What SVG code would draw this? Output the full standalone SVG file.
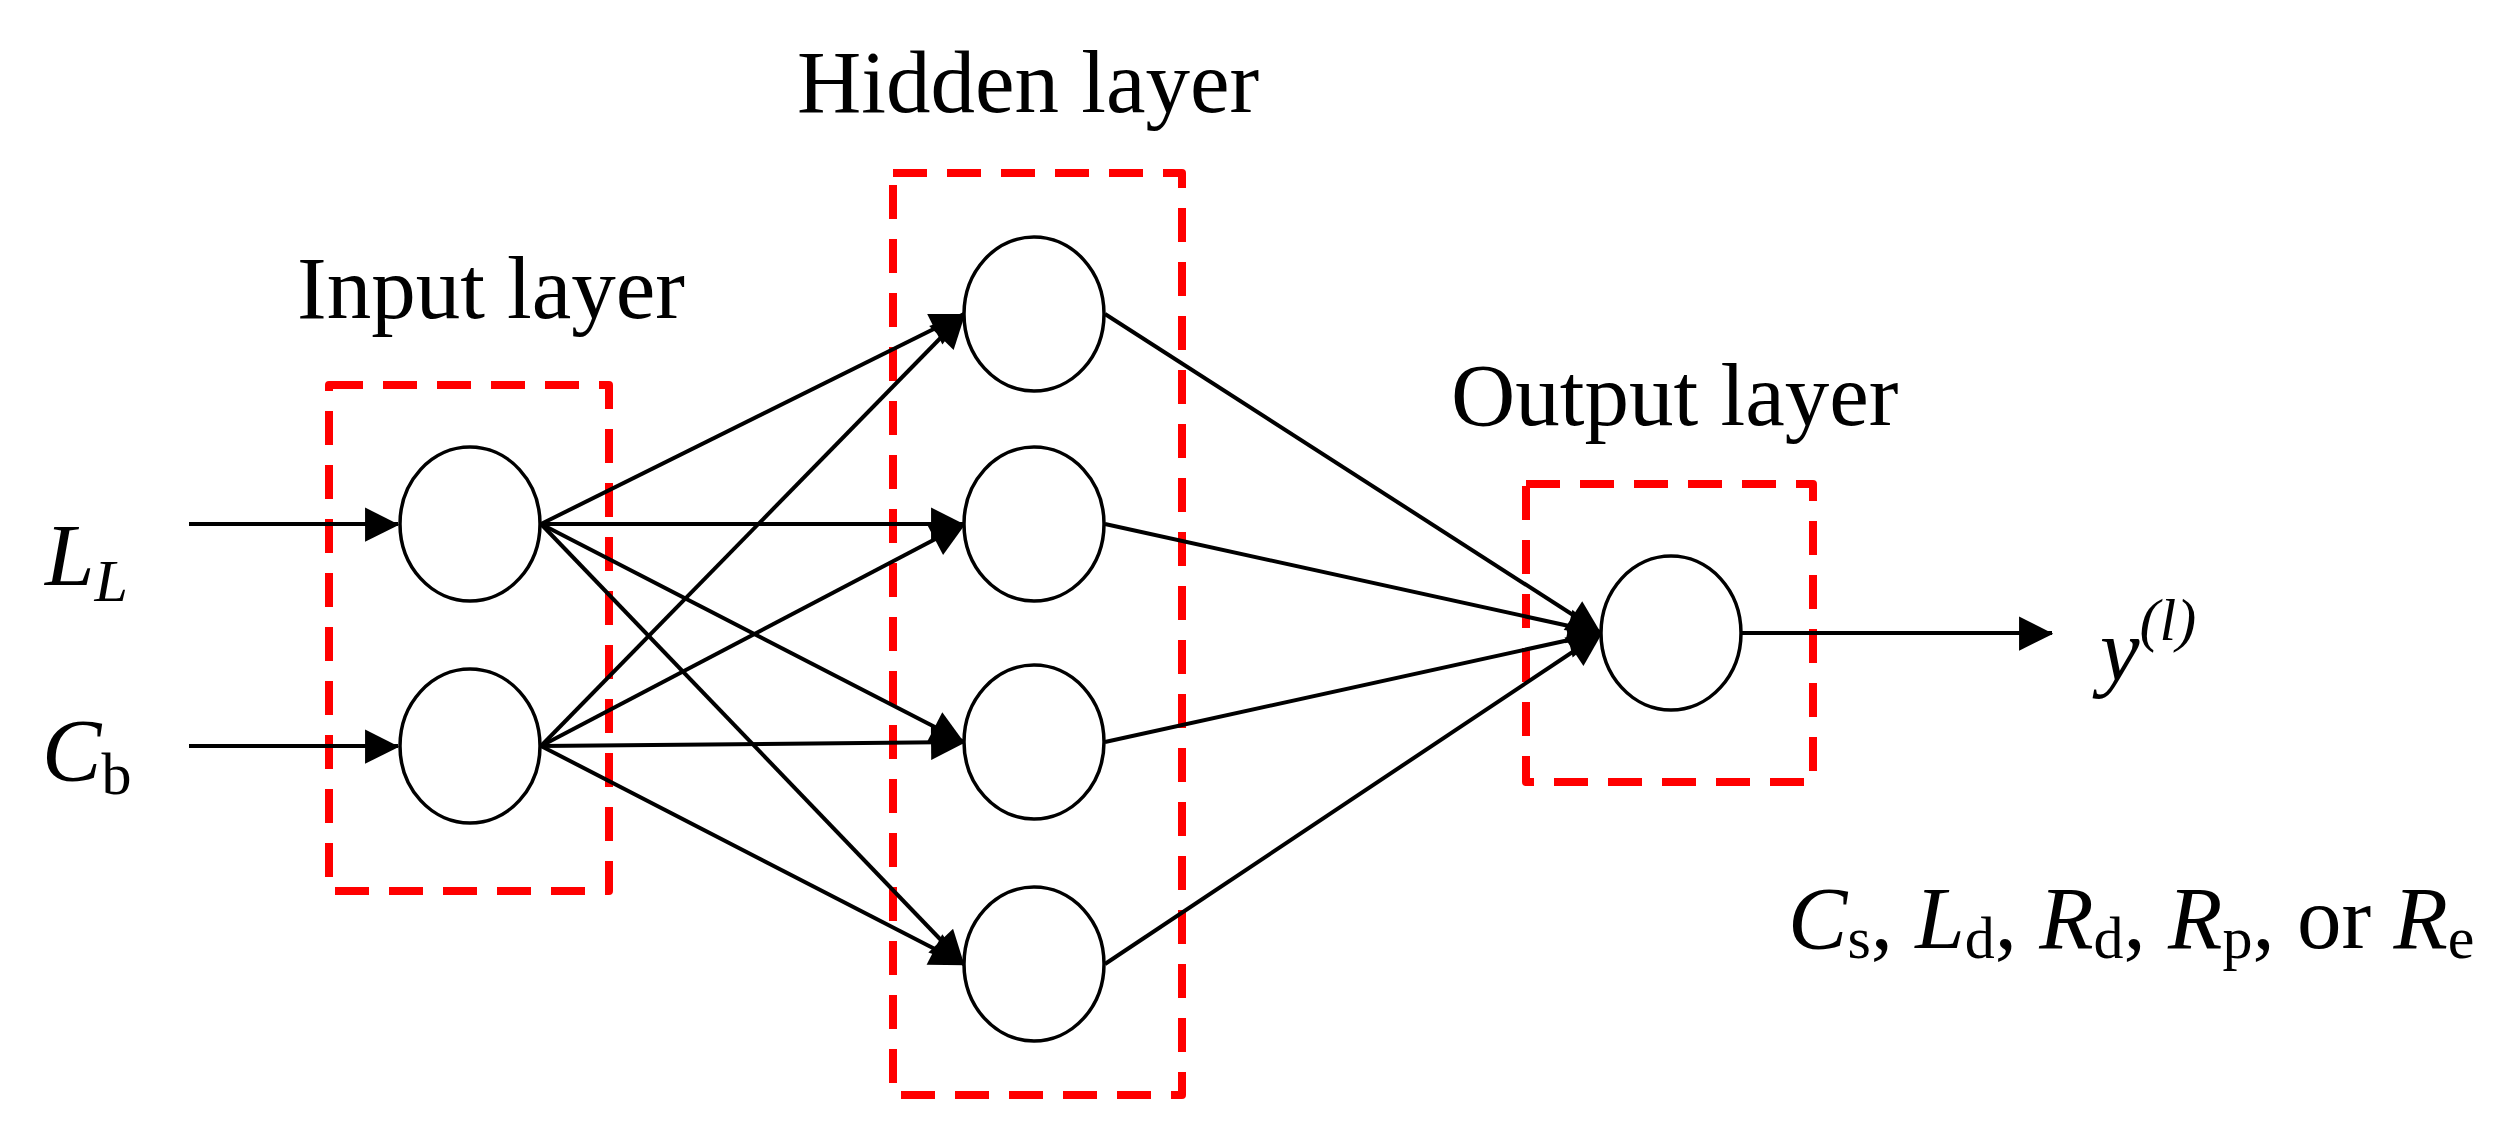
<svg xmlns="http://www.w3.org/2000/svg" width="2514" height="1144" viewBox="0 0 2514 1144">
<style>
.n{fill:#fff;stroke:#000;stroke-width:3.5}
.b{fill:none;stroke:#f00;stroke-width:8;stroke-dasharray:34 20;stroke-linejoin:round}
.e{stroke:#000;stroke-width:4;fill:none;marker-end:url(#a)}
.t{font-family:"Liberation Serif",serif;font-size:89px;fill:#000}
</style>
<defs><marker id="a" viewBox="0 0 10 10" refX="10" refY="5" markerWidth="10" markerHeight="9" markerUnits="userSpaceOnUse" orient="auto" style="overflow:visible"><path d="M0,0L10,5L0,10z" transform="scale(3.8)translate(-7,-3.5)" fill="#000"/></marker></defs>
<rect width="2514" height="1144" fill="#fff"/>
<g id="boxes">
<rect class="b" x="329" y="385" width="280" height="506"/>
<rect class="b" x="893" y="173" width="289" height="922"/>
<rect class="b" x="1526" y="484" width="287" height="298"/>
</g>
<g id="connectors">
<line class="e" x1="189" y1="524" x2="398" y2="524"/>
<line class="e" x1="189" y1="746" x2="398" y2="746"/>
<line class="e" x1="541" y1="524" x2="964" y2="314"/>
<line class="e" x1="541" y1="524" x2="964" y2="524"/>
<line class="e" x1="541" y1="524" x2="964" y2="742"/>
<line class="e" x1="541" y1="524" x2="964" y2="964"/>
<line class="e" x1="541" y1="746" x2="964" y2="314"/>
<line class="e" x1="541" y1="746" x2="964" y2="524"/>
<line class="e" x1="541" y1="746" x2="964" y2="742"/>
<line class="e" x1="541" y1="746" x2="964" y2="964"/>
<line class="e" x1="1105" y1="314" x2="1601" y2="633"/>
<line class="e" x1="1105" y1="524" x2="1601" y2="633"/>
<line class="e" x1="1105" y1="742" x2="1601" y2="633"/>
<line class="e" x1="1105" y1="964" x2="1601" y2="633"/>
<line class="e" x1="1741" y1="633" x2="2052" y2="633"/>
</g>
<g id="in1"><ellipse class="n" cx="470" cy="524" rx="70" ry="77"/></g>
<g id="in2"><ellipse class="n" cx="470" cy="746" rx="70" ry="77"/></g>
<g id="h1"><ellipse class="n" cx="1034" cy="314" rx="70" ry="77"/></g>
<g id="h2"><ellipse class="n" cx="1034" cy="524" rx="70" ry="77"/></g>
<g id="h3"><ellipse class="n" cx="1034" cy="742" rx="70" ry="77"/></g>
<g id="h4"><ellipse class="n" cx="1034" cy="964" rx="70" ry="77"/></g>
<g id="out"><ellipse class="n" cx="1671" cy="633" rx="70" ry="77"/></g>
<g id="labels">
<text class="t" x="297" y="318">Input layer</text>
<text class="t" x="797" y="112">Hidden layer</text>
<text class="t" x="1451" y="425">Output layer</text>
<text class="t" x="45" y="585"><tspan font-style="italic">L</tspan><tspan font-style="italic" font-size="60" dy="16">L</tspan></text>
<text class="t" x="42" y="780"><tspan font-style="italic">C</tspan><tspan font-size="60" dy="14">b</tspan></text>
<text class="t" x="2100" y="680" font-style="italic">y<tspan font-size="60" dy="-40">(l)</tspan></text>
<text class="t" x="1788" y="948"><tspan font-style="italic">C</tspan><tspan font-size="60" dy="10">s</tspan><tspan dy="-10">, </tspan><tspan font-style="italic">L</tspan><tspan font-size="60" dy="10">d</tspan><tspan dy="-10">, </tspan><tspan font-style="italic">R</tspan><tspan font-size="60" dy="10">d</tspan><tspan dy="-10">, </tspan><tspan font-style="italic">R</tspan><tspan font-size="60" dy="10">p</tspan><tspan dy="-10">, or </tspan><tspan font-style="italic">R</tspan><tspan font-size="60" dy="10">e</tspan></text>
</g>
</svg>
